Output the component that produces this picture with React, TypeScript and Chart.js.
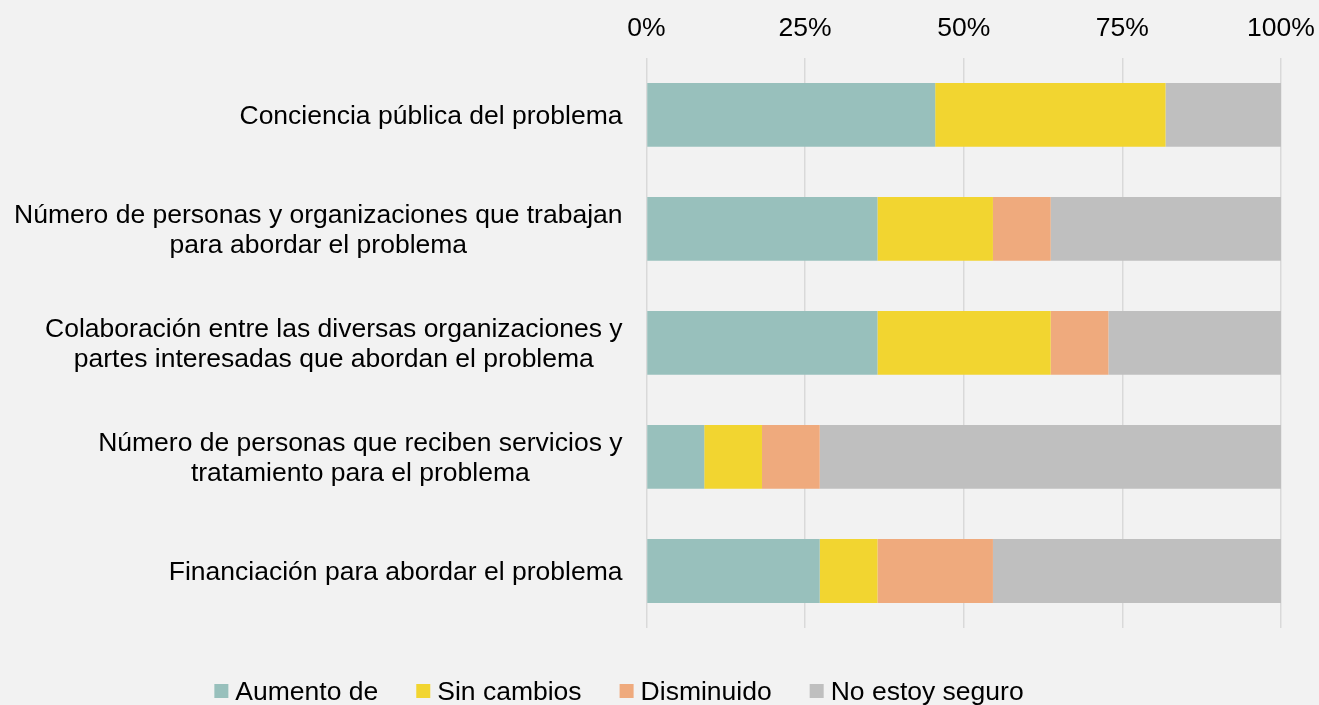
import React, { useEffect, useRef } from "react";
import { Chart, registerables } from "chart.js";

Chart.register(...registerables);

const CATEGORIES: string[][] = [
  ["Conciencia pública del problema"],
  ["Número de personas y organizaciones que trabajan", "para abordar el problema"],
  ["Colaboración entre las diversas organizaciones y", "partes interesadas que abordan el problema"],
  ["Número de personas que reciben servicios y", "tratamiento para el problema"],
  ["Financiación para abordar el problema"],
];

const SERIES_NAMES = ["Aumento de", "Sin cambios", "Disminuido", "No estoy seguro"];
const AUMENTO = [45.5, 36.4, 36.4, 9.1, 27.3];
const SIN_CAMBIOS = [36.3, 18.2, 27.3, 9.1, 9.1];
const DISMINUIDO = [0, 9.1, 9.1, 9.1, 18.2];
const NO_SEGURO = [18.2, 36.3, 27.2, 72.7, 45.4];
const X_TICKS = [0, 25, 50, 75, 100];

const COLORS = ["#98C0BC", "#F2D530", "#EFAA7D", "#BFBFBF"];
const FONT_FAMILY = "'Liberation Sans', Arial, sans-serif";
const FONT_SIZE = 26.5;
const LINE_H = 30;
const Y_PAD = 24;
const Y_TEXT_DY = 2;

// custom legend geometry
const LEG_CENTER_X = 619;
const LEG_BASELINE = 700;
const LEG_BOX = 14;
const LEG_BOX_GAP = 7;
const LEG_ITEM_GAP = 38;

const bgPlugin = {
  id: "bg",
  beforeDraw(chart: any) {
    const ctx = chart.ctx;
    ctx.save();
    ctx.fillStyle = "#F2F2F2";
    ctx.fillRect(0, 0, chart.width, chart.height);
    ctx.restore();
  },
};

const legendPlugin = {
  id: "customLegend",
  afterDraw(chart: any) {
    const ctx = chart.ctx;
    ctx.save();
    ctx.font = `${FONT_SIZE}px ${FONT_FAMILY}`;
    ctx.textBaseline = "alphabetic";
    ctx.textAlign = "left";
    const items = chart.data.datasets.map((ds: any) => ({
      text: ds.label as string,
      color: ds.backgroundColor as string,
      w: ctx.measureText(ds.label).width,
    }));
    const total =
      items.reduce((s: number, it: any) => s + LEG_BOX + LEG_BOX_GAP + it.w, 0) +
      LEG_ITEM_GAP * (items.length - 1);
    let x = LEG_CENTER_X - total / 2;
    items.forEach((it: any) => {
      ctx.fillStyle = it.color;
      ctx.fillRect(x, LEG_BASELINE - 16, LEG_BOX, LEG_BOX);
      ctx.fillStyle = "#000000";
      ctx.fillText(it.text, x + LEG_BOX + LEG_BOX_GAP, LEG_BASELINE);
      x += LEG_BOX + LEG_BOX_GAP + it.w + LEG_ITEM_GAP;
    });
    ctx.restore();
  },
};

const yLabelPlugin = {
  id: "yLabels",
  afterDraw(chart: any) {
    const scale = chart.scales.y;
    const ctx = chart.ctx;
    ctx.save();
    ctx.font = `${FONT_SIZE}px ${FONT_FAMILY}`;
    ctx.fillStyle = "#000000";
    ctx.textAlign = "center";
    ctx.textBaseline = "middle";
    const right = scale.right - Y_PAD;
    CATEGORIES.forEach((lines, i) => {
      const w = Math.max(...lines.map((l) => ctx.measureText(l).width));
      const cx = right - w / 2;
      const cy = scale.getPixelForValue(i) + Y_TEXT_DY;
      lines.forEach((l, j) => {
        ctx.fillText(l, cx, cy + (j - (lines.length - 1) / 2) * LINE_H);
      });
    });
    ctx.restore();
  },
};

export default function App() {
  const ref = useRef<HTMLCanvasElement>(null);
  useEffect(() => {
    if (!ref.current) return;
    const values = [AUMENTO, SIN_CAMBIOS, DISMINUIDO, NO_SEGURO];
    const chart = new Chart(ref.current, {
      type: "bar",
      data: {
        labels: CATEGORIES,
        datasets: SERIES_NAMES.map((name, i) => ({
          label: name,
          data: values[i],
          backgroundColor: COLORS[i],
          borderWidth: 0,
          barPercentage: 0.56,
          categoryPercentage: 1,
        })),
      },
      options: {
        indexAxis: "y",
        animation: false,
        responsive: false,
        devicePixelRatio: 1,
        layout: { padding: { top: 13, right: 38, bottom: 77, left: 12 } },
        scales: {
          x: {
            position: "top",
            stacked: true,
            min: 0,
            max: 100,
            afterBuildTicks(scale: any) {
              scale.ticks = X_TICKS.map((v) => ({ value: v }));
            },
            afterFit(scale: any) {
              scale.paddingLeft = 0;
              scale.paddingRight = 0;
              scale.height = scale.height - scale.options.ticks.padding;
            },
            ticks: {
              callback: (v: any) => v + "%",
              font: { family: FONT_FAMILY, size: FONT_SIZE },
              color: "#000000",
              padding: 13,
            },
            grid: { color: "#D9D9D9", lineWidth: 1.5, drawTicks: false },
            border: { display: false },
          },
          y: {
            stacked: true,
            afterFit(scale: any) {
              scale.paddingTop = 0;
              scale.paddingBottom = 0;
            },
            ticks: {
              font: { family: FONT_FAMILY, size: FONT_SIZE },
              color: "rgba(0,0,0,0)",
              padding: Y_PAD,
            },
            grid: { display: false, drawTicks: false },
            border: { display: false },
          },
        },
        plugins: {
          legend: { display: false },
          tooltip: { enabled: false },
        },
      },
      plugins: [bgPlugin, legendPlugin, yLabelPlugin],
    });
    return () => chart.destroy();
  }, []);
  return (
    <div
      style={{
        position: "fixed",
        left: 0,
        top: 0,
        width: 1319,
        height: 705,
        background: "#F2F2F2",
      }}
    >
      <canvas ref={ref} width={1319} height={705} />
    </div>
  );
}
